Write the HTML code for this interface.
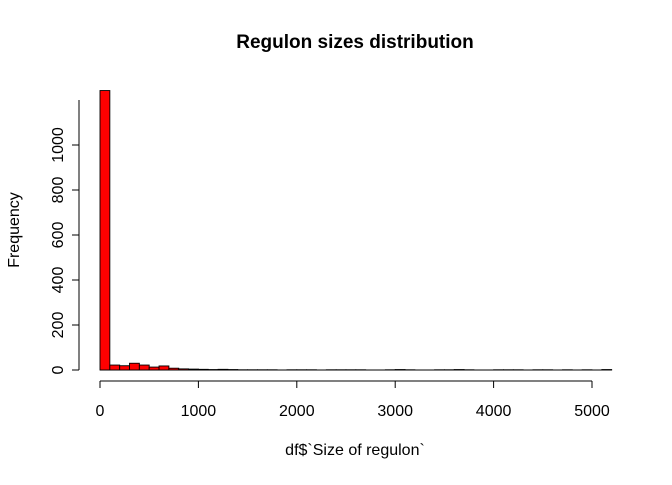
<!DOCTYPE html>
<html><head><meta charset="utf-8"><style>
body{margin:0;background:#fff;}
svg text{font-family:"Liberation Sans",sans-serif;}
</style></head><body>
<svg id="chart" width="672" height="480">
<text x="355" y="48" text-anchor="middle" font-size="19" font-weight="bold">Regulon sizes distribution</text>
<text x="355" y="455" text-anchor="middle" font-size="16">df$`Size of regulon`</text>
<text transform="translate(19,230) rotate(-90)" text-anchor="middle" font-size="16">Frequency</text>
<g id="bars"></g><g id="xaxis"></g><g id="yaxis"></g>
</svg>
<script>
const binStarts=[0,100,200,300,400,500,600,700,800,900,1000,1100,1200,1300,1400,1500,1600,1700,1800,1900,2000,2100,2200,2300,2400,2500,2600,2700,2800,2900,3000,3100,3200,3300,3400,3500,3600,3700,3800,3900,4000,4100,4200,4300,4400,4500,4600,4700,4800,4900,5000,5100];
const counts=[1242,22,19,30,22,13,18,8,5,4,3,2,3,2,1,1,1,1,0,1,1,1,0,1,1,1,1,0,0,1,2,1,0,0,1,1,2,1,0,0,1,1,1,0,1,1,0,1,0,1,0,2];
const binWidth=100;
const xTicks=[0,1000,2000,3000,4000,5000];
const yTicks=[0,200,400,600,800,1000];
const X=v=>100+v*(492/5000);
const Y=v=>370-v*0.225;
const NS="http://www.w3.org/2000/svg";
const bars=document.getElementById('bars');
const base=document.createElementNS(NS,'line');


base.setAttribute('x1',X(binStarts[0]));base.setAttribute('x2',X(binStarts[binStarts.length-1]+binWidth));
base.setAttribute('y1',Y(0));base.setAttribute('y2',Y(0));base.setAttribute('stroke','#000');base.setAttribute('stroke-width','0.9');
bars.appendChild(base);
binStarts.forEach((b,i)=>{
  const r=document.createElementNS(NS,'rect');
  
  
  const x0=X(b),x1=X(b+binWidth),y=Y(counts[i]);
  r.setAttribute('x',x0);r.setAttribute('width',x1-x0);
  r.setAttribute('y',y);r.setAttribute('height',Y(0)-y);
  r.setAttribute('fill','red');r.setAttribute('stroke','#000');r.setAttribute('stroke-width','0.9');
  bars.appendChild(r);
});
const xa=document.getElementById('xaxis');
let l=document.createElementNS(NS,'line');


l.setAttribute('x1',X(0));l.setAttribute('x2',X(5000));l.setAttribute('y1',381);l.setAttribute('y2',381);l.setAttribute('stroke','#000');
xa.appendChild(l);
xTicks.forEach(t=>{
  const k=document.createElementNS(NS,'line');
  
  
  k.setAttribute('x1',X(t));k.setAttribute('x2',X(t));k.setAttribute('y1',381);k.setAttribute('y2',388);k.setAttribute('stroke','#000');
  xa.appendChild(k);
  const s=document.createElementNS(NS,'text');
  
  
  s.setAttribute('x',X(t));s.setAttribute('y',416);s.setAttribute('text-anchor','middle');s.setAttribute('font-size','16');
  s.textContent=t;xa.appendChild(s);
});
const ya=document.getElementById('yaxis');
l=document.createElementNS(NS,'line');


l.setAttribute('x1',79);l.setAttribute('x2',79);l.setAttribute('y1',Y(0));l.setAttribute('y2',Y(1200));l.setAttribute('stroke','#000');
ya.appendChild(l);
yTicks.forEach(t=>{
  const k=document.createElementNS(NS,'line');
  
  
  k.setAttribute('x1',72);k.setAttribute('x2',79);k.setAttribute('y1',Y(t));k.setAttribute('y2',Y(t));k.setAttribute('stroke','#000');
  ya.appendChild(k);
  const s=document.createElementNS(NS,'text');
  
  
  s.setAttribute('transform','translate(63,'+Y(t)+') rotate(-90)');s.setAttribute('text-anchor','middle');s.setAttribute('font-size','16');
  s.textContent=t;ya.appendChild(s);
});
</script>
</body></html>
